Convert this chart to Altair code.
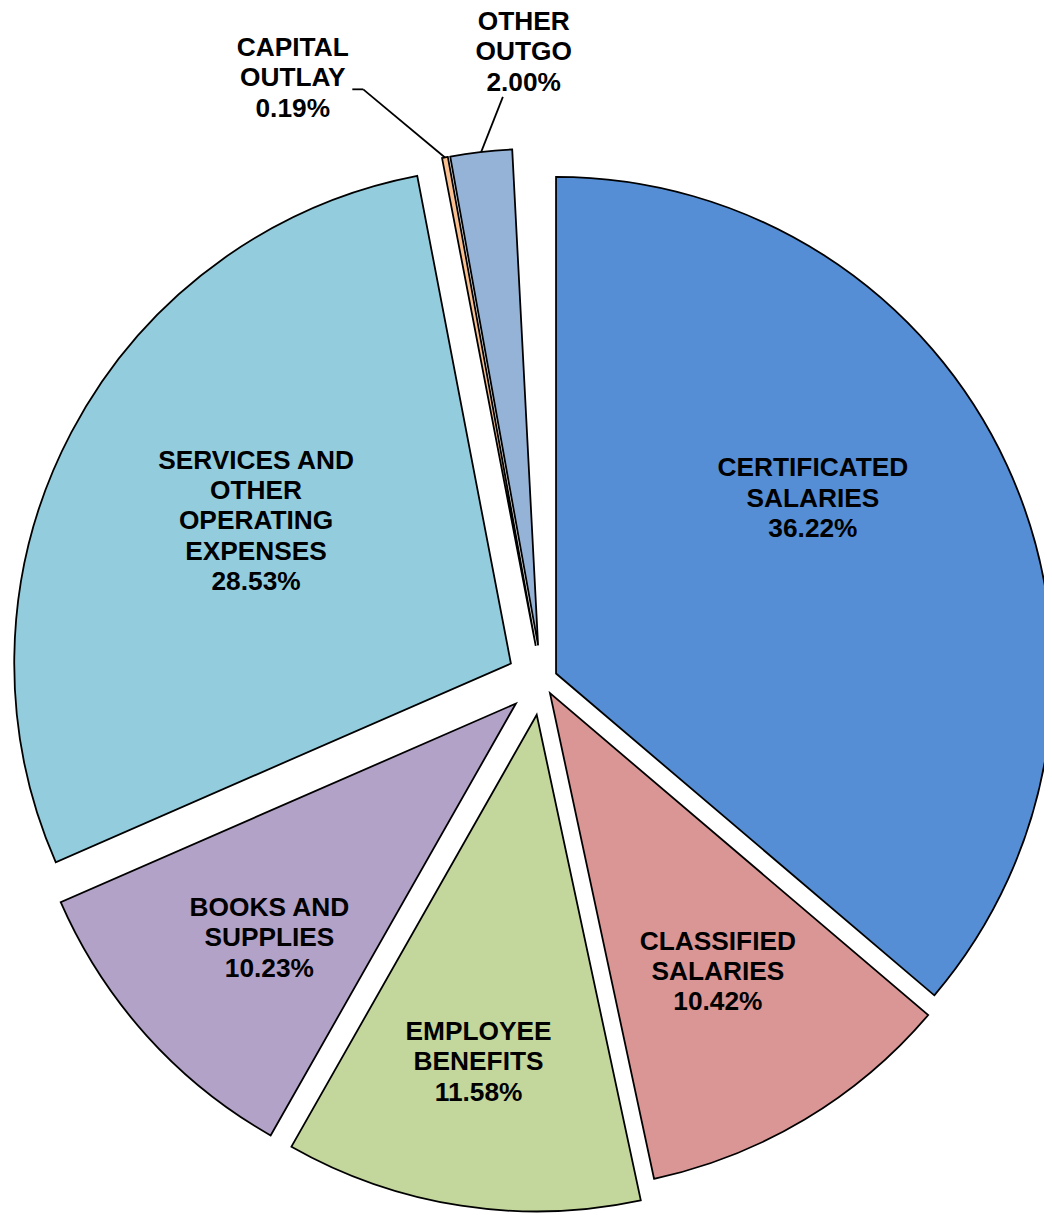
import altair as alt
import pandas as pd

# ---- data ----
CATEGORIES = [
    "CERTIFICATED\nSALARIES",
    "CLASSIFIED\nSALARIES",
    "EMPLOYEE\nBENEFITS",
    "BOOKS AND\nSUPPLIES",
    "SERVICES AND\nOTHER\nOPERATING\nEXPENSES",
    "CAPITAL\nOUTLAY",
    "OTHER\nOUTGO",
]
PERCENTS = [36.22, 10.42, 11.58, 10.23, 28.53, 0.19, 2.00]

# ---- styles ----
COLORS = ["#558ED5", "#D99694", "#C3D69B", "#B3A2C7", "#93CDDD", "#FAC090", "#95B3D7"]
EXPLODE = [15.5, 15.5, 35.5, 35.5, 35.5, 35.0, 35.0]       # slice explosion (px)
LABEL_R = [313, 328, 355, 343, 294, 622, 598]              # label distance from slice tip
LABEL_DA = [-9.4, -0.2, 0.75, -1.6, 1.35, -12.65, 5.2]     # label angle tweak (deg)
OUTSIDE = [0, 0, 0, 0, 0, 1, 1]
LEAD_AX = [0, 0, 0, 0, 0, 60, -21]   # leader start relative to label
LEAD_AY = [0, 0, 0, 0, 0, 11, 45]
LEAD_EX = [0, 0, 0, 0, 0, 71, -21]   # leader elbow relative to label

W, H = 1044, 1205
CX, CY = 538.2, 672.5
R = 500.5
FONT = "Liberation Sans"
FS = 26.5
LH = 30.6

labels_txt = [f"{c}\n{v:.2f}%" for c, v in zip(CATEGORIES, PERCENTS)]
df = pd.DataFrame({
    "order": list(range(len(CATEGORIES))),
    "name": CATEGORIES,
    "value": PERCENTS,
    "label": labels_txt,
    "nl": [t.count("\n") for t in labels_txt],
    "explode": EXPLODE,
    "lr": LABEL_R,
    "lda": LABEL_DA,
    "outside": OUTSIDE,
    "adx": LEAD_AX,
    "ady": LEAD_AY,
    "edx": LEAD_EX,
})

base = (
    alt.Chart(df)
    .transform_window(cum="sum(value)", sort=[alt.SortField("order")], frame=[None, 0])
    .transform_calculate(
        t1="datum.cum / 100 * 2 * PI",
        t0="(datum.cum - datum.value) / 100 * 2 * PI",
    )
    .transform_calculate(mid="(datum.t0 + datum.t1) / 2")
    .transform_calculate(
        px=f"{CX} + datum.explode * sin(datum.mid)",
        py=f"{CY} - datum.explode * cos(datum.mid)",
        la="datum.mid + datum.lda * PI / 180",
    )
    .transform_calculate(
        lx="datum.px + datum.lr * sin(datum.la)",
        ly="datum.py - datum.lr * cos(datum.la)",
        rx=f"datum.px + {R} * sin(datum.mid)",
        ry=f"datum.py - {R} * cos(datum.mid)",
    )
    .transform_calculate(
        ty=f"datum.ly - datum.nl * {LH} / 2",
        ax="datum.lx + datum.adx",
        ay="datum.ly + datum.ady",
        ex="datum.lx + datum.edx",
    )
)

arcs = base.mark_arc(radius=R, stroke="black", strokeWidth=1.8).encode(
    theta=alt.Theta("t0:Q", scale=None, stack=False),
    theta2="t1:Q",
    x=alt.X("px:Q", scale=None, axis=None),
    y=alt.Y("py:Q", scale=None, axis=None),
    color=alt.Color("name:N", scale=alt.Scale(domain=CATEGORIES, range=COLORS), legend=None),
)

lead1 = base.transform_filter("datum.outside == 1").mark_rule(color="black", strokeWidth=1.8).encode(
    x=alt.X("ax:Q", scale=None, axis=None),
    y=alt.Y("ay:Q", scale=None, axis=None),
    x2="ex:Q",
    y2="ay:Q",
)
lead2 = base.transform_filter("datum.outside == 1").mark_rule(color="black", strokeWidth=1.8).encode(
    x=alt.X("ex:Q", scale=None, axis=None),
    y=alt.Y("ay:Q", scale=None, axis=None),
    x2="rx:Q",
    y2="ry:Q",
)

labels = base.mark_text(
    font=FONT, fontSize=FS, fontWeight="bold", lineBreak="\n", lineHeight=LH,
    align="center", baseline="middle", color="black",
).encode(
    x=alt.X("lx:Q", scale=None, axis=None),
    y=alt.Y("ty:Q", scale=None, axis=None),
    text="label:N",
)

chart = (
    alt.layer(arcs, lead1, lead2, labels)
    .properties(width=W, height=H, autosize=alt.AutoSizeParams(type="none"), padding=0)
    .configure_view(stroke=None)
)

chart.save("out.html", embed_options={"renderer": "svg", "actions": False})
